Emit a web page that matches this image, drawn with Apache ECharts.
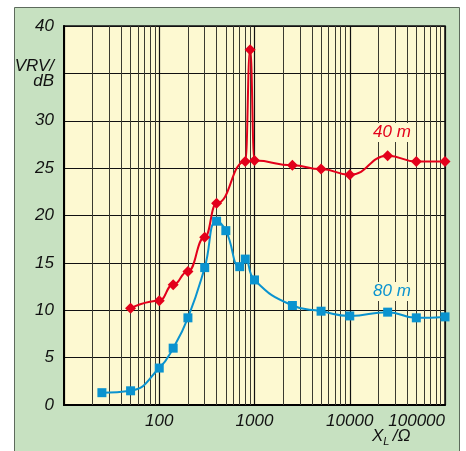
<!DOCTYPE html>
<html><head><meta charset="utf-8">
<script src="https://cdn.jsdelivr.net/npm/echarts@6/dist/echarts.min.js"></script>
<style>html,body{margin:0;padding:0;background:#fff}#c{width:466px;height:451px}</style>
</head><body><div id="c"></div>
<script>
// X_L in ohms (log axis)
const x80 = [25, 50, 100, 140, 200, 300, 400, 500, 700, 800, 1000, 2500, 5000, 10000, 25000, 50000, 100000];
const y80 = [1.3, 1.5, 3.9, 6.0, 9.2, 14.5, 19.4, 18.4, 14.6, 15.4, 13.2, 10.5, 9.9, 9.4, 9.8, 9.2, 9.3];
const x40 = [50, 100, 140, 200, 300, 400, 800, 900, 1000, 2500, 5000, 10000, 25000, 50000, 100000];
const y40 = [10.2, 11.0, 12.7, 14.1, 17.7, 21.3, 25.7, 37.5, 25.8, 25.3, 24.9, 24.3, 26.3, 25.7, 25.7];
const yTicks = [0, 5, 10, 15, 20, 25, 30, 35, 40];
const xTickLabels = ['100', '1000', '10000', '100000'];
const yAxisTitle = 'VRV/\ndB';
const label40 = '40 m';
const label80 = '80 m';

const RED = '#e3001b', BLUE = '#0a93cf';
const FONT = '"Liberation Sans", Arial, sans-serif';

// minor grid lines 2..9 per decade
const minorLines = [];
for (let d = 10; d < 100000; d *= 10) for (let k = 2; k <= 9; k++) minorLines.push({xAxis: d * k});

const chart = echarts.init(document.getElementById('c'), null, {renderer: 'canvas'});
chart.setOption({
  animation: false,
  backgroundColor: '#fff',
  graphic: [
    {type: 'rect', z: -10, shape: {x: 14.5, y: 7.5, width: 445, height: 450}, style: {fill: '#c7e1c1', stroke: '#5d6a5c', lineWidth: 1}},
    {type: 'text', left: 372, top: 428, z: 10, style: {
      text: '{i|X}{s|L} {i|/Ω}', rich: {
        i: {fontFamily: FONT, fontStyle: 'italic', fontSize: 17, fill: '#111'},
        s: {fontFamily: FONT, fontStyle: 'italic', fontSize: 11, fill: '#111', padding: [10, 0, 0, 0]}
      }}},
    {type: 'text', left: 371, top: 123, z: 10, style: {text: label40, fontFamily: FONT, fontStyle: 'italic', fontSize: 17, fill: RED, backgroundColor: '#fdf9d1', padding: [1, 2]}},
    {type: 'text', left: 371, top: 282, z: 10, style: {text: label80, fontFamily: FONT, fontStyle: 'italic', fontSize: 17, fill: BLUE, backgroundColor: '#fdf9d1', padding: [1, 2]}}
  ],
  grid: {left: 64, top: 26, right: 21, bottom: 46, show: true, backgroundColor: '#fdf9d1', borderColor: '#111', borderWidth: 1.5},
  xAxis: {
    type: 'log', logBase: 10, min: 10, max: 100000,
    axisLine: {show: true, lineStyle: {color: '#000', width: 2}},
    axisTick: {show: false},
    splitLine: {show: true, lineStyle: {color: '#111', width: 1.2}},
    axisLabel: {
      fontFamily: FONT, fontStyle: 'italic', fontSize: 17, color: '#111', margin: 8,
      showMinLabel: false, alignMaxLabel: 'right',
      formatter: v => xTickLabels.includes(String(Math.round(v))) ? String(Math.round(v)) : ''
    }
  },
  yAxis: {
    type: 'value', min: 0, max: 40, interval: 5,
    axisLine: {show: true, lineStyle: {color: '#000', width: 2}},
    axisTick: {show: false},
    splitLine: {show: true, lineStyle: {color: '#111', width: 1.2}},
    axisLabel: {
      fontFamily: FONT, fontStyle: 'italic', fontSize: 17, color: '#111', margin: 10,
      lineHeight: 15,
      formatter: v => v === 35 ? yAxisTitle : (yTicks.includes(v) ? String(v) : '')
    }
  },
  series: [
    {type: 'line', data: [], silent: true,
      markLine: {silent: true, symbol: 'none', label: {show: false}, animation: false,
        lineStyle: {color: '#3a3a30', width: 1, type: 'solid'}, data: minorLines}},
    {type: 'line', name: '80m', data: x80.map((x, i) => [x, y80[i]]), smooth: 0.5,
      symbol: 'rect', symbolSize: 9, lineStyle: {color: BLUE, width: 2}, itemStyle: {color: BLUE}, z: 5},
    {type: 'line', name: '40m', data: x40.map((x, i) => [x, y40[i]]), smooth: 0.5, smoothMonotone: 'x',
      symbol: 'diamond', symbolSize: 11, lineStyle: {color: RED, width: 2}, itemStyle: {color: RED}, z: 6}
  ]
});
</script></body></html>
